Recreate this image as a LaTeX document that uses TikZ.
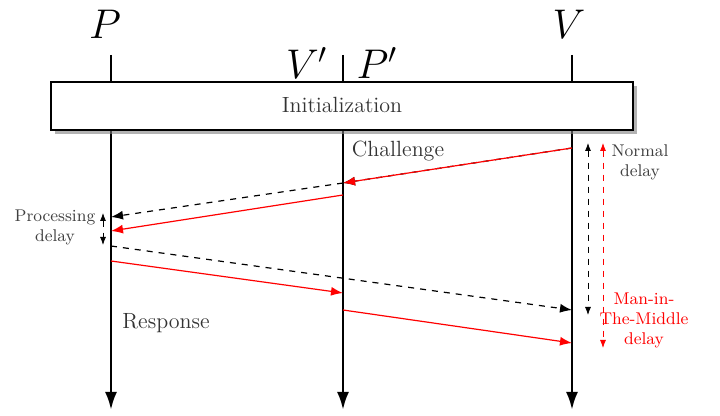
\documentclass[tikz,border=0pt]{standalone}
\usetikzlibrary{arrows.meta,shadows}
\tikzset{
  lifeline/.style={line width=1.4pt,-{Latex[length=9pt,width=6pt]}},
  msg/.style={semithick,-{Latex[length=6pt,width=4.5pt]}},
  plain msg/.style={msg,black,dashed},
  mitm msg/.style={msg,red},
  who/.style={font=\huge},
  lbl/.style={font=\fontsize{11}{13}\selectfont,text=black!80},
  small lbl/.style={font=\fontsize{8.5}{10}\selectfont,align=center,text=black!75},
  delay/.style={dashed,thin,{Latex[length=4pt,width=3pt]}-{Latex[length=4pt,width=3pt]}},
  initbox/.style={draw,thick,fill=white,minimum width=291pt,minimum height=24pt,
    drop shadow={opacity=0.6,shadow xshift=2pt,shadow yshift=-2pt}}
}
\begin{document}
\begin{tikzpicture}[x=0.5pt,y=-0.5pt]
    \useasboundingbox (0,0) rectangle (720,416);
    % lifelines
    \coordinate (P top) at (111,55);
    \coordinate (Vp top) at (343,55);
    \coordinate (V top) at (572,55);
    \coordinate (P end) at (111,410);
    \coordinate (Vp end) at (343,410);
    \coordinate (V end) at (572,410);
    \draw[lifeline] (P top) -- (P end);
    \draw[lifeline] (Vp top) -- (Vp end);
    \draw[lifeline] (V top) -- (V end);
    \node[who] (Plbl) at (105,24) {$P$};
    \node[who] (Vlbl) at (569,24) {$V$};
    \node[who] (Vplbl) at (307,63) {$V'$};
    \node[who] (Pplbl) at (377,63) {$P'$};
    \node[initbox] (init) at (342,106) {};
    \node[lbl] (initlbl) at (342,105) {Initialization};
    % challenge
    \coordinate (V c) at (572,148);
    \coordinate (Vp c) at (343,183);
    \coordinate (Vp c2) at (343,195);
    \coordinate (P c) at (111,217);
    \coordinate (P c2) at (111,231);
    \draw[plain msg] (V c) -- (Vp c);
    \draw[mitm msg] (V c) -- (Vp c);
    \draw[plain msg] (Vp c) -- (P c);
    \draw[mitm msg] (Vp c2) -- (P c2);
    \node[lbl] (chal) at (398,151) {Challenge};
    % response
    \coordinate (P r) at (111,246);
    \coordinate (V r) at (572,310);
    \coordinate (P r2) at (111,261);
    \coordinate (Vp r) at (343,293);
    \coordinate (Vp r2) at (343,310);
    \coordinate (V r2) at (572,343);
    \draw[plain msg] (P r) -- (V r);
    \draw[mitm msg] (P r2) -- (Vp r);
    \draw[mitm msg] (Vp r2) -- (V r2);
    \node[lbl] (resp) at (166,323) {Response};
    % delays
    \coordinate (pd top) at (103,213);
    \coordinate (pd bot) at (103,245);
    \coordinate (nd top) at (588,143);
    \coordinate (nd bot) at (588,315);
    \coordinate (md top) at (603,143);
    \coordinate (md bot) at (603,348);
    \draw[delay] (pd top) -- (pd bot);
    \draw[delay] (nd top) -- (nd bot);
    \draw[delay,red] (md top) -- (md bot);
    \node[small lbl] (pdlbl) at (55,227) {Processing\\delay};
    \node[small lbl] (ndlbl) at (640,162) {Normal\\delay};
    \node[small lbl,text=red] (mdlbl) at (644,320) {Man-in-\\The-Middle\\delay};
\end{tikzpicture}
\end{document}
